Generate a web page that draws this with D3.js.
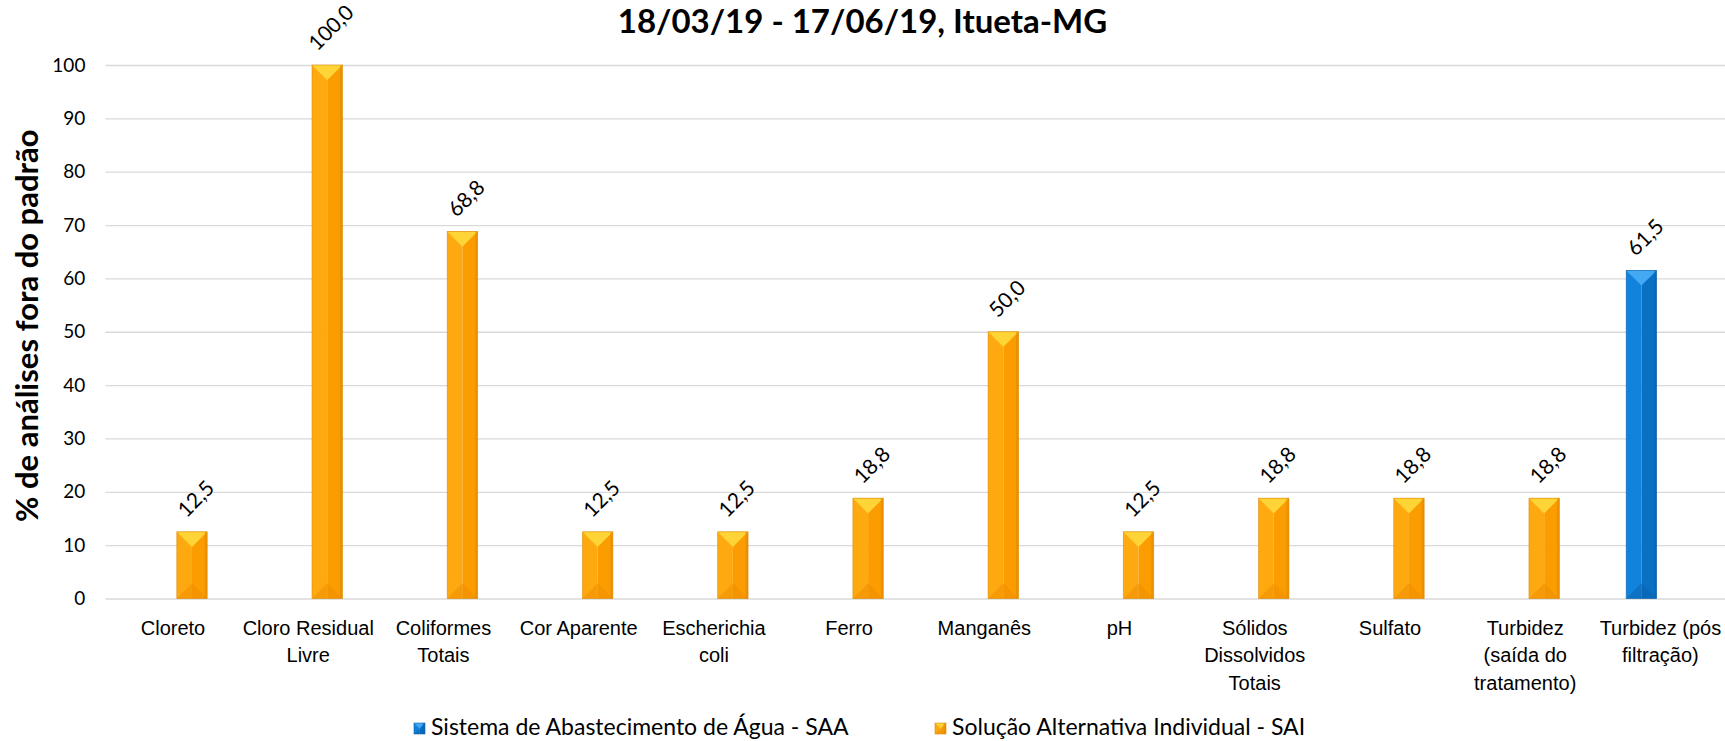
<!DOCTYPE html>
<html lang="pt-BR">
<head>
<meta charset="utf-8">
<title>% de análises fora do padrão</title>
<script src="https://cdn.jsdelivr.net/npm/d3@7/dist/d3.min.js"></script>
<style>
  html, body { margin: 0; padding: 0; background: #ffffff; }
  svg { display: block; font-family: Lato, "Open Sans", sans-serif; }
</style>
</head>
<body>
<svg id="chart" width="1725" height="741"></svg>
<script>
// Parâmetros analisados (quebras de linha como nos rótulos do eixo)
const categories = [
  "Cloreto",
  "Cloro Residual\nLivre",
  "Coliformes\nTotais",
  "Cor Aparente",
  "Escherichia\ncoli",
  "Ferro",
  "Manganês",
  "pH",
  "Sólidos\nDissolvidos\nTotais",
  "Sulfato",
  "Turbidez\n(saída do\ntratamento)",
  "Turbidez (pós\nfiltração)"
];

const seriesNames = ["Sistema de Abastecimento de Água - SAA", "Solução Alternativa Individual - SAI"];

// % de análises fora do padrão por tipo de abastecimento (null = sem análise)
const saaValues = [null, null, null, null, null, null, null, null, null, null, null, 61.5];
const saiValues = [12.5, 100.0, 68.8, 12.5, 12.5, 18.8, 50.0, 12.5, 18.8, 18.8, 18.8, null];

const yTicks = [0, 10, 20, 30, 40, 50, 60, 70, 80, 90, 100];

const titleText = "18/03/19 - 17/06/19, Itueta-MG";
const yTitle = "% de análises fora do padrão";

// Paletas de cada série: frente clara, frente escura, bisel superior, bisel inferior, contorno
const palettes = {
  SAA: { light: "#1283DC", dark: "#0A70C4", top: "#43A9F3", bottom: "#0964B0", stroke: "#0B5FA8" },
  SAI: { light: "#FFA911", dark: "#FB9C00", top: "#FFD436", bottom: "#EE9000", stroke: "#D98800" }
};

const svg = d3.select("#chart");
const W = 1725, H = 741;
const plot = { left: 105.4, right: 1728, top: 65, bottom: 598.5 };

const x = d3.scaleBand()
  .domain(categories)
  .range([plot.left, plot.right])
  .paddingInner(0)
  .paddingOuter(0);

const xInner = d3.scaleBand()
  .domain(["SAA", "SAI"])
  .range([0, x.bandwidth()])
  .paddingInner(0.2)
  .paddingOuter(0.88);

const y = d3.scaleLinear().domain([0, 100]).range([plot.bottom, plot.top]);

const fontTick = 19;
const fontCat = 20;
const fontValue = 21;

// Título
svg.append("text")
  .attr("x", W / 2)
  .attr("y", 33)
  .attr("text-anchor", "middle")
  .attr("font-size", 33)
  .attr("font-weight", 700)
  .attr("fill", "#000")
  .text(titleText);

// Linhas de grade horizontais
svg.append("g")
  .attr("transform", `translate(${plot.left},0)`)
  .call(d3.axisLeft(y).tickValues(yTicks).tickSize(-(plot.right - plot.left)).tickFormat(""))
  .call(g => g.select(".domain").remove())
  .call(g => g.selectAll("line").attr("stroke", "#D9D9D9").attr("stroke-width", 1.3));

// Rótulos do eixo Y
svg.append("g")
  .attr("transform", `translate(${plot.left - 20},0)`)
  .call(d3.axisLeft(y).tickValues(yTicks).tickSize(0).tickPadding(0))
  .call(g => g.select(".domain").remove())
  .call(g => g.selectAll("text")
    .attr("font-size", fontTick)
    .attr("font-family", "Lato, sans-serif")
    .attr("fill", "#000"));

// Título do eixo Y
svg.append("text")
  .attr("transform", `translate(38,${(plot.top + plot.bottom) / 2 - 6}) rotate(-90)`)
  .attr("text-anchor", "middle")
  .attr("font-size", 31)
  .attr("font-weight", 700)
  .attr("fill", "#000")
  .text(yTitle);

// Rótulos do eixo X (várias linhas)
const xAxis = svg.append("g")
  .attr("transform", `translate(0,${plot.bottom})`)
  .call(d3.axisBottom(x).tickSize(0).tickPadding(0).tickFormat(""))
  .call(g => g.select(".domain").remove());

xAxis.selectAll(".tick").each(function (d) {
  const t = d3.select(this).append("text")
    .attr("text-anchor", "middle")
    .attr("font-size", fontCat)
    .attr("fill", "#000");
  d.split("\n").forEach((line, i) => {
    t.append("tspan")
      .attr("x", 0)
      .attr("y", 36 + i * 27.5)
      .text(line);
  });
});

// Barras com efeito de bisel
const rows = [];
categories.forEach((c, i) => {
  if (saaValues[i] != null) rows.push({ cat: c, key: "SAA", value: saaValues[i] });
  if (saiValues[i] != null) rows.push({ cat: c, key: "SAI", value: saiValues[i] });
});

function drawBevelBar(g, x0, w, yTop, yBase, pal) {
  const x1 = x0 + w, xc = x0 + w / 2;
  const h = yBase - yTop;
  const bev = Math.min(w / 2, h / 2);
  g.append("rect").attr("x", x0).attr("y", yTop).attr("width", w / 2).attr("height", h).attr("fill", pal.light);
  g.append("rect").attr("x", xc).attr("y", yTop).attr("width", w / 2).attr("height", h).attr("fill", pal.dark);
  g.append("polygon")
    .attr("points", [[x0, yBase], [x1, yBase], [xc, yBase - bev]].map(p => p.join(",")).join(" "))
    .attr("fill", pal.bottom).attr("opacity", 0.55);
  g.append("polygon")
    .attr("points", [[x0, yTop], [x1, yTop], [xc, yTop + bev]].map(p => p.join(",")).join(" "))
    .attr("fill", pal.top);
  g.append("rect").attr("x", x1 - 2.5).attr("y", yTop).attr("width", 2.5).attr("height", h)
    .attr("fill", pal.stroke).attr("opacity", 0.45);
  g.append("rect").attr("x", x0).attr("y", yTop).attr("width", w).attr("height", h)
    .attr("fill", "none").attr("stroke", pal.stroke).attr("stroke-width", 0.8).attr("stroke-opacity", 0.7);
}

const barsG = svg.append("g");
rows.forEach(r => {
  const bx = x(r.cat) + xInner(r.key);
  const g = barsG.append("g");
  drawBevelBar(g, bx, xInner.bandwidth(), y(r.value), y(0), palettes[r.key]);
});

// Rótulos de valor, girados 45°: a caixa girada fica a uma distância fixa do topo da barra
const fmt = v => v.toFixed(1).replace(".", ",");
const labelGap = 14;
svg.append("g").selectAll("text")
  .data(rows)
  .join("text")
  .attr("text-anchor", "middle")
  .attr("dominant-baseline", "central")
  .attr("font-size", fontValue)
  .attr("fill", "#000")
  .text(d => fmt(d.value))
  .attr("transform", function (d) {
    const cx = x(d.cat) + xInner(d.key) + xInner.bandwidth() / 2 + 3;
    const len = this.getComputedTextLength();
    const rotH = (len + fontValue * 0.72) / Math.SQRT2;
    return `translate(${cx},${y(d.value) - labelGap - rotH / 2}) rotate(-45)`;
  });

// Legenda
const legendItems = [
  { key: "SAA", label: seriesNames[0], x: 414 },
  { key: "SAI", label: seriesNames[1], x: 935 }
];
const legend = svg.append("g").attr("transform", `translate(0,723)`);
legendItems.forEach(item => {
  const g = legend.append("g");
  drawBevelBar(g, item.x, 11, 0, 11, palettes[item.key]);
  g.append("text")
    .attr("x", item.x + 17)
    .attr("y", 12)
    .attr("font-size", 23)
    .attr("fill", "#000")
    .text(item.label);
});
</script>
</body>
</html>
